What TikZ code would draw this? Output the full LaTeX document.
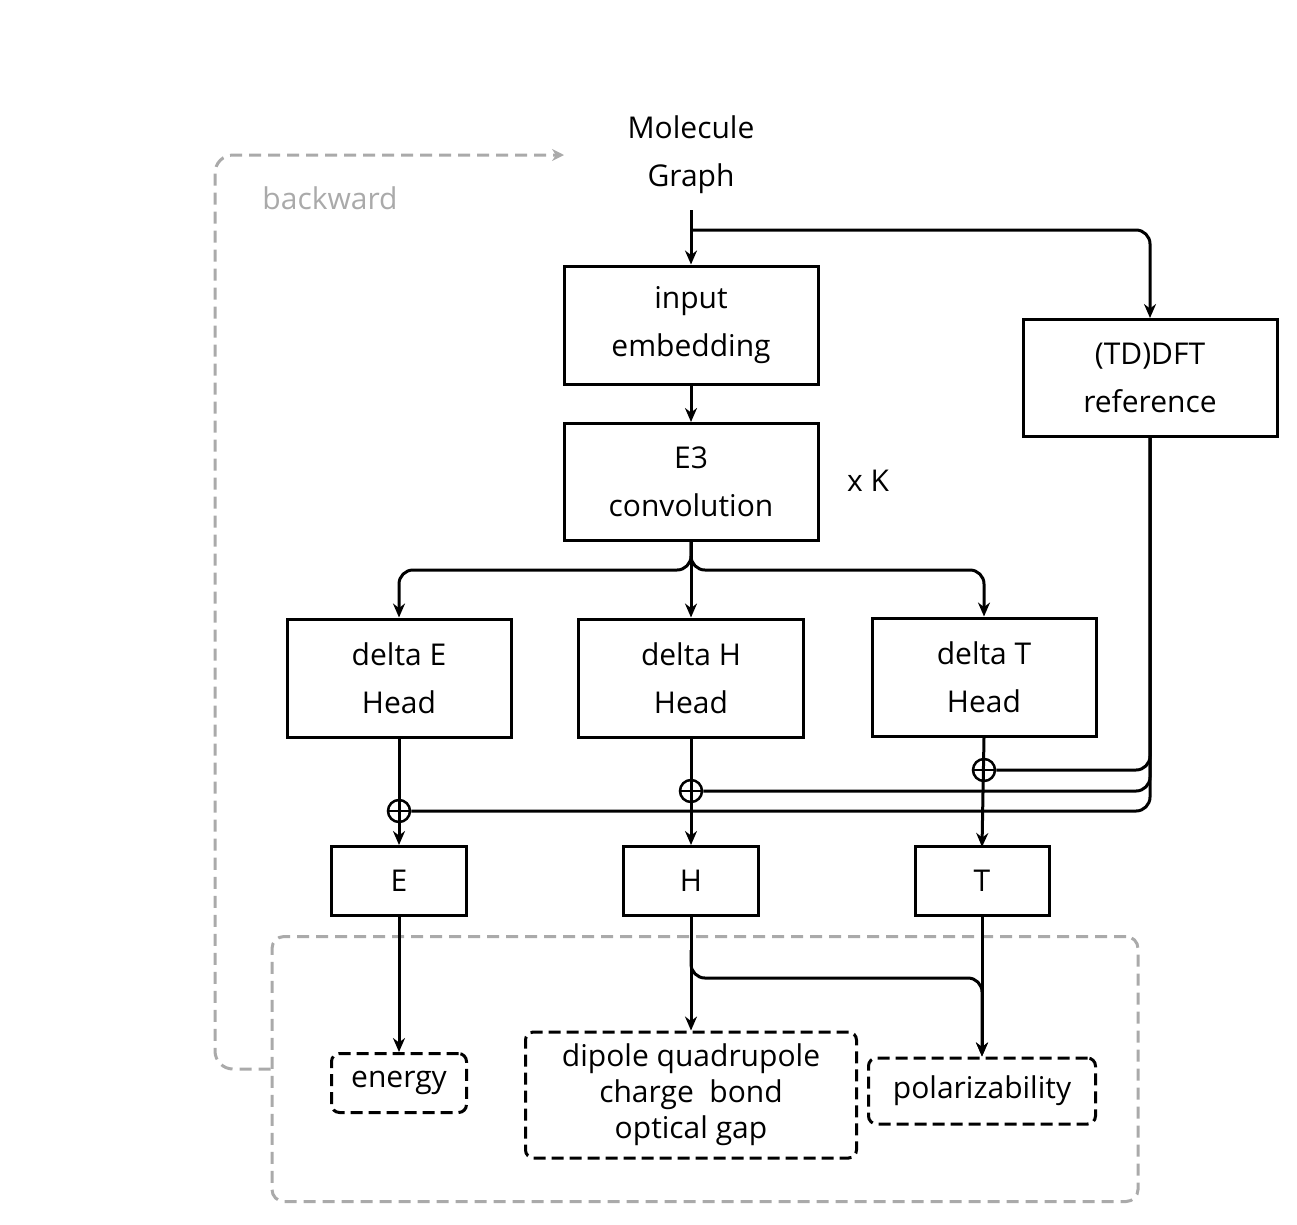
\documentclass[tikz,border=0pt]{standalone}
\usepackage{fontspec}
\setmainfont{Open Sans}
\usetikzlibrary{arrows.meta}
\definecolor{gr}{RGB}{170,170,170}
\begin{document}
\begin{tikzpicture}[x=1pt,y=-1pt,
  box/.style={draw,line width=3pt,align=center,inner sep=0pt,font=\fontsize{30}{48}\selectfont},
  dbox/.style={draw,line width=3pt,dash pattern=on 12pt off 6pt,rounded corners=8pt,align=center,inner sep=0pt,font=\fontsize{30}{36}\selectfont},
  arr/.style={line width=3pt,-{Stealth[length=14pt,width=12pt]},rounded corners=14pt},
  ln/.style={line width=3pt,rounded corners=14pt},
  op/.style={circle,draw,line width=2.5pt,minimum size=22pt,inner sep=0pt,fill=white}]
\useasboundingbox (0,0) rectangle (1297,1224);
\node[align=center,font=\fontsize{30}{48}\selectfont] (mg) at (691,155) {Molecule\\Graph};
\coordinate (mgb) at (691,210);
\node[box,minimum width=254pt,minimum height=118pt] (ie) at (691,325) {input\\embedding};
\node[box,minimum width=254pt,minimum height=117pt] (e3) at (691,482) {E3\\convolution};
\node[font=\fontsize{30}{36}\selectfont] (xk) at (868,481) {x K};
\node[box,minimum width=254pt,minimum height=117pt] (td) at (1150,378) {(TD)DFT\\reference};
\node[box,minimum width=224pt,minimum height=118pt] (dE) at (399,678) {delta E\\Head};
\node[box,minimum width=225pt,minimum height=118pt] (dH) at (691,678) {delta H\\Head};
\node[box,minimum width=224pt,minimum height=118pt] (dT) at (984,677) {delta T\\Head};
\node[box,minimum width=135pt,minimum height=69pt] (E) at (399,881) {E};
\node[box,minimum width=135pt,minimum height=69pt] (H) at (691,881) {H};
\node[box,minimum width=134pt,minimum height=69pt] (T) at (982,881) {T};
\node[dbox,minimum width=135pt,minimum height=59pt] (en) at (399,1083) {energy};
\node[dbox,minimum width=331pt,minimum height=126pt] (dp) at (691,1095) {dipole quadrupole\\charge\ \ bond\\optical gap};
\node[dbox,minimum width=227pt,minimum height=66pt] (po) at (982,1091) {polarizability};
\node[draw=gr,line width=3pt,dash pattern=on 12pt off 7pt,rounded corners=12pt,minimum width=866pt,minimum height=265pt] (grp) at (705,1069) {};
\node[text=gr,font=\fontsize{30}{36}\selectfont] (bw) at (330,198) {backward};
\coordinate (bwend) at (564,155);
\draw[gr,line width=3pt,dash pattern=on 12pt off 7pt,rounded corners=18pt,-{Stealth[length=12pt,width=12pt]}] (grp.west |- 0,1069) -- (215,1069) -- (215,155) -- (bwend);
% main flow
\draw[arr] (mgb) -- (ie.north);
\draw[arr] (691,230) -- (1150,230) -- (td.north);
\draw[arr] (ie.south) -- (e3.north);
\draw[arr] (e3.south) -- (dH.north);
\draw[arr] (e3.south) -- (691,570) -- (399,570) -- (dE.north);
\draw[arr] (e3.south) -- (691,570) -- (984,570) -- (dT.north);
% reference sums
\node[op] (pT) at (984,770) {};
\node[op] (pH) at (691,791) {};
\node[op] (pE) at (399,811) {};
\draw[ln] (td.south) -- (1150,770) -- (pT.east);
\draw[ln] (td.south) -- (1150,791) -- (pH.east);
\draw[ln] (td.south) -- (1150,811) -- (pE.east);
\draw[arr] (dE.south) -- (E.north);
\draw[arr] (dH.south) -- (H.north);
\draw[arr] (dT.south) -- (982,847);
\foreach \p in {pT,pH,pE}{\draw[line width=2.5pt] (\p.north)--(\p.south) (\p.west)--(\p.east);}
\draw[arr] (E.south) -- (en.north);
\draw[arr] (H.south) -- (dp.north);
\draw[arr] (T.south) -- (po.north);
\draw[arr] (691,950) -- (691,978) -- (982,978) -- (po.north);
\end{tikzpicture}
\end{document}
